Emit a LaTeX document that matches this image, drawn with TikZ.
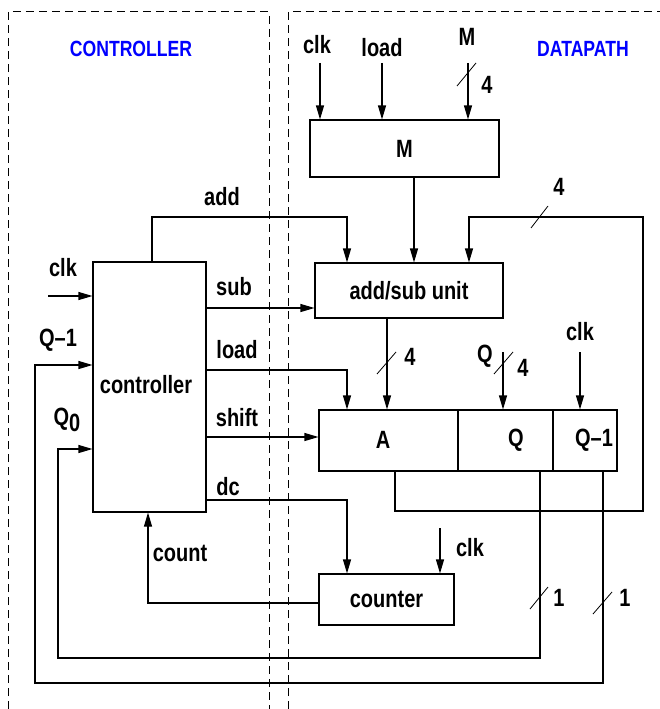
\documentclass[tikz,border=0pt]{standalone}
\usepackage{fontspec}
\newfontfamily\lbl{Liberation Sans}[FakeStretch=0.8]
\usetikzlibrary{arrows.meta}
\begin{document}
\begin{tikzpicture}[x=1pt,y=-1pt,
  line width=1.1pt,
  every node/.style={font=\lbl\bfseries\fontsize{25}{27}\selectfont},
  blk/.style={draw, rectangle, inner sep=0pt},
  txt/.style={inner sep=0pt},
  title/.style={inner sep=0pt, text=blue, font=\lbl\bfseries\fontsize{22}{24}\selectfont},
  arr/.style={-{Triangle[length=14pt,width=8pt]}},
  bus/.style={line width=0.8pt},
  region/.style={dash pattern=on 8pt off 5pt, line width=1pt}]
\useasboundingbox (0,0) rectangle (660,709);
% regions
\draw[region] (8,709) -- (8,12) -- (269,12) -- (269,709);
\draw[region] (288,709) -- (288,12) -- (660,12);
\node[title] (tc) at (131,49) {CONTROLLER};
\node[title] (td) at (583,49) {DATAPATH};
% blocks
\node[blk, minimum width=113pt, minimum height=250pt] (ctrl) at (149.5,387) {};
\node[txt] (ctrlt) at (146,385) {controller};
\node[blk, minimum width=189pt, minimum height=57pt] (mreg) at (404.5,148.5) {M};
\node[blk, minimum width=188pt, minimum height=55pt] (addsub) at (409,290.5) {add/sub unit};
\node[blk, minimum width=139pt, minimum height=61pt] (ra) at (388.5,440.5) {};
\node[blk, minimum width=95pt, minimum height=61pt] (rq) at (505.5,440.5) {};
\node[blk, minimum width=64pt, minimum height=61pt] (rq1) at (585,440.5) {};
\node[txt] (rat) at (383,440) {A};
\node[txt] (rqt) at (516,440) {Q};
\node[txt] (rq1t) at (594,440) {Q\textendash1};
\node[blk, minimum width=135pt, minimum height=51pt] (cnt) at (386.5,599.5) {counter};
% input start points
\coordinate (mclk) at (320,63);
\coordinate (mload) at (382,63);
\coordinate (mm) at (468,63);
\coordinate (aqin) at (503,352);
\coordinate (q1clk) at (580,352);
\coordinate (cclk) at (440,528);
\coordinate (kclk) at (48,296);
% bends
\coordinate (addB) at (152,217);
\coordinate (addT) at (347,217);
\coordinate (fbB) at (395,511);
\coordinate (fbR) at (643,511);
\coordinate (fbT) at (469,217);
\coordinate (subY) at (0,308);
\coordinate (loadT) at (347,370);
\coordinate (shiftY) at (0,437);
\coordinate (dcT) at (347,500);
\coordinate (cntB) at (148,603);
\coordinate (q0B) at (540,658);
\coordinate (q0L) at (58,449);
\coordinate (q1B) at (603,683);
\coordinate (q1L) at (35,365);
% M inputs
\draw[arr] (mclk) -- (mreg.north -| mclk);
\draw[arr] (mload) -- (mreg.north -| mload);
\draw[arr] (mm) -- (mreg.north -| mm);
\node[txt] (lclk1) at (317,45) {clk};
\node[txt] (lload1) at (382,48) {load};
\node[txt] (lm) at (467,37) {M};
\draw[bus] (457,86) -- (476,63);
\node[txt] (l4a) at (487,85) {4};
% M to add/sub
\draw[arr] (mreg.south -| 414,0) -- (addsub.north -| 414,0);
% add
\draw[arr] (ctrl.north -| addB) |- (addT) -- (addsub.north -| addT);
\node[txt] (ladd) at (222,197) {add};
% feedback A -> add/sub
\draw[arr] (ra.south -| fbB) -- (fbB) -- (fbR) |- (fbT) -- (addsub.north -| fbT);
\draw[bus] (531,228) -- (548,206);
\node[txt] (l4b) at (559,187) {4};
% sub
\draw[arr] (ctrl.east |- subY) -- (addsub.west |- subY);
\node[txt] (lsub) at (234,287) {sub};
% load
\draw[arr] (ctrl.east |- loadT) -- (loadT) -- (ra.north -| loadT);
\node[txt] (lload2) at (237,350) {load};
% add/sub -> A
\draw[arr] (addsub.south -| 387,0) -- (ra.north -| 387,0);
\draw[bus] (377,374) -- (396,352);
\node[txt] (l4c) at (410,357) {4};
% Q input
\draw[arr] (aqin) -- (rq.north -| aqin);
\draw[bus] (494,374) -- (513,352);
\node[txt] (lq) at (485,356) {Q};
\node[txt] (l4d) at (523,368) {4};
% clk Q-1
\draw[arr] (q1clk) -- (rq1.north -| q1clk);
\node[txt] (lclk2) at (580,332) {clk};
% shift
\draw[arr] (ctrl.east |- shiftY) -- (ra.west |- shiftY);
\node[txt] (lshift) at (237,418) {shift};
% dc
\draw[arr] (ctrl.east |- dcT) -- (dcT) -- (cnt.north -| dcT);
\node[txt] (ldc) at (228,487) {dc};
% counter clk
\draw[arr] (cclk) -- (cnt.north -| cclk);
\node[txt] (lclk3) at (470,548) {clk};
% count
\draw[arr] (cnt.west |- cntB) -- (cntB) -- (ctrl.south -| cntB);
\node[txt] (lcount) at (180,553) {count};
% controller clk
\draw[arr] (kclk) -- (ctrl.west |- kclk);
\node[txt] (lclk4) at (63,268) {clk};
% Q0 feedback
\draw[arr] (rq.south -| q0B) -- (q0B) -| (q0L) -- (ctrl.west |- q0L);
\draw[bus] (530,609) -- (548,587);
\node[txt] (l1a) at (559,598) {1};
\node[txt] (lq0) at (67,420) {Q\raisebox{-6pt}{0}};
% Q-1 feedback
\draw[arr] (rq1.south -| q1B) -- (q1B) -| (q1L) -- (ctrl.west |- q1L);
\draw[bus] (593,614) -- (612,592);
\node[txt] (l1b) at (625,598) {1};
\node[txt] (lq1) at (58,340) {Q\textendash1};
\end{tikzpicture}
\end{document}
